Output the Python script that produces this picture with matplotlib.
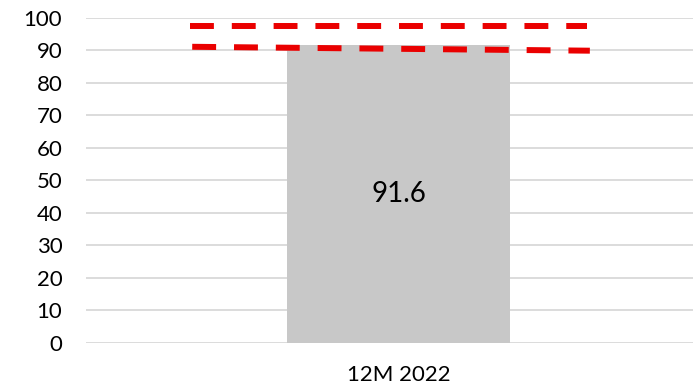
import matplotlib
matplotlib.use('Agg')
import matplotlib.pyplot as plt

# data
categories = ['12M 2022']
values = [91.6]

# the two dashed reference lines (x in category units, y in axis units)
upper_x = [-0.334, 0.302]
upper_y = [97.5, 97.5]
lower_x = [-0.330, 0.306]
lower_y = [91.1, 89.9]

yticks = list(range(0, 101, 10))

plt.rcParams['font.family'] = ['Lato', 'DejaVu Sans']

fig = plt.figure(figsize=(6.93, 3.88), dpi=100)
ax = fig.add_axes([0.124, 0.116, 0.876, 0.838])

bars = ax.bar([0], values, width=0.357, color='#c8c8c8', zorder=2)
ax.text(0, values[0] / 2, f'{values[0]:.1f}', ha='center', va='center',
        fontsize=20, color='#000000', zorder=4)

red = '#ea0000'
ax.plot(upper_x, upper_y, color=red, lw=4.3, dashes=(4, 3),
        solid_capstyle='butt', dash_capstyle='butt', zorder=3, clip_on=False)
ax.plot(lower_x, lower_y, color=red, lw=4.3, dashes=(4, 3),
        solid_capstyle='butt', dash_capstyle='butt', zorder=3, clip_on=False)

ax.set_xlim(-0.5, 0.471)
ax.set_ylim(0, 100)
ax.set_yticks(yticks)
ax.set_xticks([0])
ax.set_xticklabels(categories)

ax.grid(axis='y', color='#d9d9d9', lw=1.3, zorder=0)
ax.set_axisbelow(True)
for s in ax.spines.values():
    s.set_visible(False)
ax.tick_params(axis='y', length=0, pad=17, labelsize=16, colors='#000000')
ax.tick_params(axis='x', length=0, pad=16, labelsize=16, colors='#000000')

fig.savefig('out.png', dpi=100)
